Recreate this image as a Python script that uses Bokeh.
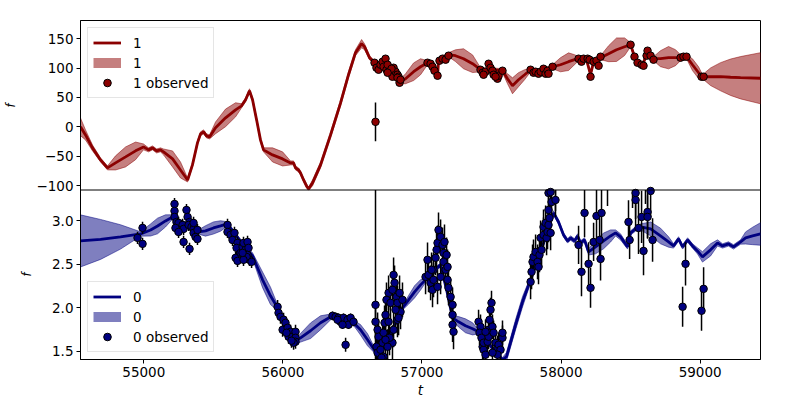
import numpy as np
from bokeh.plotting import figure
from bokeh.models import (Range1d, FixedTicker, Legend, LegendItem, ColumnDataSource, Span, Title)
from bokeh.embed import file_html
from bokeh.resources import INLINE

# ---------------- data ----------------
x_ticks = [55000, 56000, 57000, 58000, 59000]
x_tick_labels = ["55000", "56000", "57000", "58000", "59000"]
y1_ticks = [-100, -50, 0, 50, 100, 150]
y1_tick_labels = ["\u2212100", "\u221250", "0", "50", "100", "150"]
y0_ticks = [1.5, 2.0, 2.5, 3.0]
y0_tick_labels = ["1.5", "2.0", "2.5", "3.0"]

# series "1" : predicted mean and half-width of the band
gp1_t = [54545, 54581, 54631, 54689, 54739, 54797, 54869, 54941, 54998, 55034, 55063, 55092, 55120, 55142,
         55207, 55264, 55315, 55350, 55386, 55408, 55430, 55451, 55473, 55516, 55588, 55660, 55703, 55732,
         55760, 55782, 55811, 55839, 55861, 55926, 55998, 56055, 56077, 56091, 56113, 56127, 56149, 56170,
         56185, 56213, 56271, 56343, 56415, 56472, 56522, 56566, 56587, 56623, 56659, 56702, 56753, 56796,
         56839, 56882, 56940, 56990, 57040, 57083, 57112, 57119, 57148, 57191, 57241, 57299, 57364, 57421,
         57493, 57579, 57615, 57651, 57694, 57738, 57781, 57853, 57939, 57996, 58054, 58097, 58126, 58183,
         58212, 58234, 58284, 58342, 58399, 58457, 58500, 58528, 58557, 58586, 58615, 58636, 58665, 58715,
         58773, 58823, 58866, 58902, 58945, 58989, 59017, 59075, 59147, 59219, 59291, 59434]
gp1_mean = [0.0, -13.7, -35.8, -56.3, -69.9, -61.4, -51.2, -40.9, -34.1, -39.2, -35.8, -41.0, -39.2, -42.7,
            -54.6, -73.4, -90.4, -64.8, -27.3, -11.9, -8.5, -15.4, -17.1, -1.7, 15.3, 29.0, 35.8, 46.0,
            61.4, 46.0, 11.9, -22.2, -39.2, -47.8, -54.6, -61.4, -61.4, -69.9, -73.4, -78.5, -90.4, -100.6,
            -105.8, -95.5, -64.8, -13.7, 40.9, 88.7, 126.2, 141.6, 136.4, 117.7, 109.1, 104.0, 100.6, 95.5,
            76.7, 81.9, 93.8, 102.3, 109.1, 102.3, 85.3, 110.9, 117.7, 122.8, 121.1, 115.9, 107.4, 97.2,
            97.2, 95.5, 81.9, 69.9, 80.2, 88.7, 97.2, 93.8, 102.3, 105.7, 110.9, 114.3, 116.0, 114.3,
            88.7, 110.9, 117.7, 124.5, 131.3, 136.4, 139.8, 119.4, 109.1, 104.0, 124.5, 124.5, 116.0, 116.0,
            117.7, 117.7, 117.7, 119.4, 105.7, 92.1, 85.3, 85.3, 85.3, 84.4, 83.6, 82.7]
gp1_hw = [15, 8.5, 5, 3.4, 3.4, 12, 17, 15, 5, 3.4, 3.4, 3.4, 3.4, 5,
          13.6, 13.6, 3.4, 3.4, 3.4, 3.4, 3.4, 3.4, 3.4, 10, 15, 12, 3.4, 3.4,
          3.4, 3.4, 3.4, 3.4, 3.4, 12, 12, 3.4, 3.4, 3.4, 3.4, 3.4, 3.4, 3.4,
          3.4, 5, 5, 5, 5, 5, 5, 7, 5, 3.4, 3.4, 3.4, 3.4, 3.4,
          3.4, 8.5, 15, 13.6, 3.4, 3.4, 3.4, 3.4, 3.4, 3.4, 10, 17, 15, 3.4,
          3.4, 3.4, 8.5, 13.6, 12, 8.5, 3.4, 3.4, 3.4, 12, 15, 8.5, 3.4, 3.4,
          3.4, 3.4, 3.4, 13.6, 20, 15, 3.4, 3.4, 3.4, 3.4, 3.4, 3.4, 3.4, 13.6,
          19, 13.6, 3.4, 3.4, 10, 10, 3.4, 15, 24, 31, 36, 43.5]

# series "1" : observations
obs1_t = [56666, 56659, 56673, 56688, 56702, 56717, 56724, 56738, 56745, 56753, 56760, 56774, 56788, 56796,
          56810, 56824, 56832, 56839, 56824, 56781, 56753, 56846,
          57040, 57062, 57076, 57090, 57112, 57126, 57148, 57170, 57191,
          57421, 57436, 57457, 57479, 57493, 57507, 57515, 57543, 57551, 57579, 57443, 57529,
          57781, 57802, 57817, 57838, 57853, 57874, 57889, 57903, 57910, 57939,
          58126, 58147, 58162, 58191, 58205, 58212, 58234, 58255, 58270, 58284,
          58500, 58528, 58550, 58579, 58593, 58615, 58622, 58644, 58665,
          58859, 58880, 58902, 59010, 59025]
obs1_f = [8.5, 109.1, 100.6, 97.2, 105.7, 110.9, 102.3, 116.0, 97.2, 105.7, 93.8, 92.1, 85.3, 100.6,
          93.8, 88.7, 85.3, 75.0, 83.6, 98.9, 92.1, 80.2,
          109.1, 107.4, 102.3, 95.5, 87.0, 112.6, 116.0, 114.3, 121.1,
          97.2, 92.1, 93.8, 107.4, 100.6, 95.5, 88.7, 81.9, 87.0, 95.5, 88.7, 85.3,
          97.2, 92.1, 93.8, 90.4, 93.8, 98.9, 90.4, 95.5, 90.4, 102.3,
          116.0, 110.9, 116.0, 116.0, 114.3, 85.3, 110.9, 112.6, 104.0, 119.4,
          139.8, 119.4, 109.1, 105.7, 104.0, 121.1, 129.6, 121.1, 114.3,
          117.7, 119.4, 119.4, 85.3, 85.3]
obs1_err = [33, 2, 2, 2, 2, 2, 2, 2, 2, 2, 2, 2, 2, 2,
            2, 2, 2, 2, 2, 2, 2, 2,
            2, 2, 2, 2, 2, 2, 2, 2, 2,
            2, 2, 2, 2, 2, 2, 2, 2, 2, 2, 2, 2,
            2, 2, 2, 2, 2, 2, 2, 2, 2, 2,
            2, 2, 2, 2, 2, 2, 2, 2, 2, 2,
            2, 2, 2, 2, 2, 2, 2, 2, 2,
            2, 2, 2, 2, 2]

# series "0" : predicted mean and half-width of the band
gp0_t = [54545, 54689, 54833, 54977, 55049, 55099, 55156, 55207, 55228, 55300, 55394, 55444, 55501, 55552,
         55602, 55660, 55732, 55782, 55854, 55911, 55962, 56019, 56091, 56127, 56199, 56271, 56357, 56415,
         56501, 56558, 56609, 56666, 56702, 56774, 56860, 56904, 56947, 56990, 57033, 57076, 57134, 57177,
         57220, 57263, 57313, 57364, 57407, 57457, 57529, 57579, 57608, 57673, 57723, 57781, 57853, 57910,
         57946, 57982, 58018, 58047, 58068, 58097, 58119, 58140, 58169, 58198, 58248, 58306, 58356, 58392,
         58428, 58478, 58500, 58536, 58572, 58644, 58715, 58773, 58809, 58845, 58874, 58910, 58945, 58981,
         59017, 59075, 59125, 59161, 59204, 59240, 59291, 59327, 59377, 59434]
gp0_mean = [2.770, 2.787, 2.816, 2.850, 2.896, 2.942, 3.000, 3.046, 3.011, 2.965, 2.873, 2.885, 2.919, 2.942,
            2.965, 2.839, 2.690, 2.598, 2.322, 2.138, 2.000, 1.805, 1.609, 1.655, 1.736, 1.828, 1.908, 1.885,
            1.839, 1.747, 1.632, 1.494, 1.517, 1.690, 2.000, 2.092, 2.184, 2.264, 2.333, 2.414, 2.494, 2.207,
            1.885, 1.839, 1.793, 1.758, 1.724, 1.632, 1.494, 1.402, 1.437, 1.805, 2.069, 2.322, 2.643, 2.919,
            3.092, 2.988, 2.839, 2.770, 2.804, 2.770, 2.827, 2.747, 2.781, 2.643, 2.701, 2.770, 2.827, 2.862,
            2.816, 2.701, 2.862, 2.908, 2.931, 2.908, 2.827, 2.758, 2.712, 2.793, 2.701, 2.781, 2.712, 2.655,
            2.586, 2.667, 2.747, 2.712, 2.735, 2.701, 2.758, 2.804, 2.827, 2.850]
gp0_hw = [0.30, 0.23, 0.14, 0.025, 0.07, 0.09, 0.07, 0.025, 0.025, 0.025, 0.025, 0.06, 0.07, 0.06,
          0.025, 0.025, 0.025, 0.035, 0.09, 0.10, 0.035, 0.025, 0.025, 0.05, 0.09, 0.08, 0.025, 0.025,
          0.025, 0.06, 0.07, 0.025, 0.025, 0.025, 0.025, 0.05, 0.07, 0.06, 0.025, 0.025, 0.025, 0.025,
          0.025, 0.06, 0.08, 0.07, 0.025, 0.025, 0.025, 0.025, 0.05, 0.06, 0.06, 0.035, 0.025, 0.025,
          0.025, 0.025, 0.025, 0.025, 0.025, 0.025, 0.025, 0.025, 0.025, 0.035, 0.08, 0.09, 0.07, 0.035,
          0.035, 0.025, 0.025, 0.025, 0.035, 0.08, 0.09, 0.06, 0.025, 0.025, 0.025, 0.025, 0.025, 0.035,
          0.06, 0.07, 0.035, 0.025, 0.025, 0.025, 0.025, 0.07, 0.10, 0.13]

# series "0" : observations
obs0_t = [54955, 54991, 54991,
          55221, 55221, 55221, 55235, 55250, 55228, 55279, 55286, 55307, 55315, 55329, 55322, 55343, 55358,
          55358, 55372, 55386, 55386, 55286, 55329, 55250, 55358,
          55602, 55602, 55624, 55638, 55652, 55674, 55667, 55660, 55674, 55696, 55710, 55717, 55732, 55746,
          55753, 55746, 55760, 55739, 55717, 55710, 55775,
          55962, 55969, 55983, 56005, 55998, 56019, 56034, 56055, 56041, 56069, 56091, 56091, 56091, 56077,
          56062, 56026,
          56357, 56379, 56400, 56415, 56436, 56465, 56472, 56487, 56508, 56451, 56393, 56429,
          56666, 56666, 56681, 56688, 56673, 56681, 56702, 56717, 56724, 56731, 56738, 56745, 56760, 56774,
          56788, 56796, 56803, 56817, 56824, 56839, 56846, 56860, 56824, 56796, 56788, 56767, 56753, 56724,
          56709, 56810, 56832, 56760, 56738,
          57040, 57026, 57047, 57062, 57076, 57083, 57098, 57105, 57112, 57119, 57134, 57148, 57162, 57155,
          57155, 57170, 57184, 57184, 57191, 57206, 57220, 57220, 57220, 57227, 57134, 57112, 57083, 57069,
          57177,
          57407, 57421, 57414, 57428, 57436, 57443, 57457, 57443, 57472, 57479, 57486, 57493, 57500, 57479,
          57507, 57515, 57529, 57543, 57551, 57565, 57579, 57579, 57543, 57507, 57457,
          57781, 57788, 57795, 57802, 57817, 57831, 57838, 57845, 57860, 57853, 57874, 57874, 57889, 57896,
          57903, 57910, 57917, 57925, 57910, 57932, 57960, 57910, 57925,
          58126, 58147, 58169, 58198, 58212, 58234, 58255, 58277, 58291, 58284, 58485, 58493, 58536, 58536,
          58557, 58579, 58593, 58622, 58622, 58644, 58658, 58874, 58895, 59010, 59025, 57960, 58334, 58514,
          58607]
obs0_f = [2.805, 2.920, 2.736,
          3.195, 3.115, 3.046, 2.988, 2.977, 2.919, 2.954, 2.908, 3.126, 3.046, 2.988, 2.954, 2.931, 2.908,
          2.862, 2.816, 2.793, 2.896, 2.758, 2.678, 2.873, 2.977,
          2.954, 2.873, 2.839, 2.781, 2.862, 2.747, 2.690, 2.575, 2.540, 2.632, 2.701, 2.747, 2.667, 2.758,
          2.690, 2.609, 2.552, 2.586, 2.552, 2.632, 2.529,
          2.011, 1.942, 1.896, 1.862, 1.747, 1.827, 1.770, 1.724, 1.667, 1.667, 1.724, 1.655, 1.609, 1.598,
          1.621, 1.713,
          1.908, 1.896, 1.885, 1.839, 1.885, 1.862, 1.805, 1.885, 1.839, 1.574, 1.862, 1.805,
          2.034, 1.839, 1.747, 1.667, 1.552, 1.483, 1.517, 1.598, 1.713, 1.827, 1.919, 2.092, 2.172, 2.057,
          2.207, 2.379, 2.287, 2.126, 2.057, 2.172, 1.954, 2.092, 1.862, 1.747, 1.598, 1.655, 1.552, 1.437,
          1.425, 1.977, 1.885, 1.839, 1.632,
          2.552, 2.356, 2.379, 2.287, 2.207, 2.437, 2.575, 2.667, 2.747, 2.897, 2.816, 2.724, 2.758, 2.632,
          2.529, 2.437, 2.471, 2.322, 2.230, 2.126, 2.034, 1.919, 1.805, 1.724, 2.356, 2.241, 2.322, 2.437,
          2.609,
          1.839, 1.782, 1.713, 1.655, 1.552, 1.517, 1.460, 1.598, 1.609, 1.667, 1.862, 1.977, 2.057, 1.747,
          1.782, 1.713, 1.598, 1.540, 1.575, 1.517, 1.655, 1.713, 1.460, 1.483, 1.724,
          2.299, 2.414, 2.529, 2.586, 2.643, 2.529, 2.471, 2.609, 2.667, 2.805, 2.839, 2.931, 2.977, 2.805,
          2.873, 2.954, 3.034, 2.862, 3.126, 3.218, 3.241, 3.322, 3.333,
          2.724, 2.414, 3.092, 2.506, 2.230, 2.758, 3.057, 2.781, 3.092, 2.563, 2.988, 2.781, 3.241, 3.322,
          2.919, 3.046, 2.655, 3.103, 3.046, 3.345, 2.781, 2.012, 2.506, 1.966, 2.218, 3.414, 3.471, 3.448,
          3.494]
obs0_err = [0.07, 0.07, 0.07,
            0.07, 0.07, 0.07, 0.07, 0.07, 0.07, 0.07, 0.07, 0.07, 0.07, 0.07, 0.07, 0.07, 0.07,
            0.07, 0.07, 0.07, 0.07, 0.07, 0.07, 0.07, 0.07,
            0.07, 0.07, 0.07, 0.07, 0.07, 0.07, 0.07, 0.07, 0.07, 0.07, 0.07, 0.07, 0.07, 0.07,
            0.07, 0.07, 0.07, 0.07, 0.07, 0.07, 0.07,
            0.08, 0.08, 0.08, 0.08, 0.08, 0.08, 0.08, 0.08, 0.08, 0.08, 0.08, 0.08, 0.08, 0.08,
            0.08, 0.08,
            0.05, 0.05, 0.05, 0.05, 0.05, 0.05, 0.05, 0.05, 0.05, 0.08, 0.05, 0.05,
            2.0, 0.2, 0.2, 0.2, 0.2, 0.2, 0.2, 0.2, 0.2, 0.2, 0.2, 0.2, 0.2, 0.2,
            0.2, 0.2, 0.2, 0.2, 0.2, 0.2, 0.2, 0.2, 0.2, 0.2, 0.2, 0.2, 0.2, 0.2,
            0.2, 0.2, 0.2, 0.2, 0.2,
            0.2, 0.2, 0.2, 0.2, 0.2, 0.2, 0.2, 0.2, 0.2, 0.2, 0.2, 0.2, 0.2, 0.2,
            0.2, 0.2, 0.2, 0.2, 0.2, 0.2, 0.2, 0.2, 0.2, 0.2, 0.2, 0.2, 0.2, 0.2,
            0.2,
            0.14, 0.14, 0.14, 0.14, 0.14, 0.14, 0.14, 0.14, 0.14, 0.14, 0.14, 0.14, 0.14, 0.14,
            0.14, 0.14, 0.14, 0.14, 0.14, 0.14, 0.14, 0.14, 0.14, 0.14, 0.14,
            0.2, 0.2, 0.2, 0.2, 0.2, 0.2, 0.2, 0.2, 0.2, 0.2, 0.2, 0.2, 0.2, 0.2,
            0.2, 0.2, 0.2, 0.2, 0.2, 0.2, 0.2, 0.2, 0.2,
            0.22, 0.28, 0.28, 0.25, 0.23, 0.22, 0.30, 0.25, 0.30, 0.25, 0.25, 0.22, 0.30, 0.30,
            0.30, 0.30, 0.28, 0.30, 0.25, 0.30, 0.25, 0.23, 0.25, 0.23, 0.25, 0.30, 0.30, 0.30,
            0.30]

# ---------------- panel limits ----------------
T_LO, T_HI = 54545, 59434
Y1_LO, Y1_HI = -107.5, 181.0      # upper panel (series 1)
Y0_LO, Y0_HI = 1.405, 3.356       # lower panel (series 0)

FONT = "DejaVu Sans"
FS = "13.5px"
FS_F = "11.5px"
RED = "#8b0000"
NAVY = "#000080"

# one frame, two stacked panels: the lower panel uses the main y range,
# the upper one an extra y range placed over the upper half of the frame
span0 = Y0_HI - Y0_LO
span1 = Y1_HI - Y1_LO
p = figure(width=800, height=400, x_range=Range1d(T_LO, T_HI),
           y_range=Range1d(Y0_LO, Y0_HI + span0),
           output_backend="svg", toolbar_location=None,
           min_border_left=80, min_border_right=40, min_border_top=20, min_border_bottom=40)
p.extra_y_ranges = {"top": Range1d(Y1_LO - span1, Y1_HI)}


def to_main(v):
    """value of the upper panel -> position on the shared left axis"""
    return Y0_HI + (v - Y1_LO) / span1 * span0


p.outline_line_color = "black"
p.outline_line_width = 1
p.xgrid.visible = False
p.ygrid.visible = False
p.background_fill_color = "white"
p.border_fill_color = "white"
for ax in (p.xaxis[0], p.yaxis[0]):
    ax.axis_line_color = "black"
    ax.major_tick_line_color = "black"
    ax.major_tick_out = 4
    ax.major_tick_in = 0
    ax.minor_tick_line_color = None
    ax.major_label_text_font = FONT
    ax.major_label_text_font_size = FS
    ax.major_label_text_color = "black"
    ax.major_label_standoff = 3
    ax.axis_label_text_font = FONT
    ax.axis_label_text_font_size = FS
    ax.axis_label_text_font_style = "italic"
    ax.axis_label_text_color = "black"

ytick_pos = [float(v) for v in y0_ticks] + [float(to_main(v)) for v in y1_ticks]
ytick_lab = y0_tick_labels + y1_tick_labels
p.yaxis.ticker = FixedTicker(ticks=ytick_pos)
p.yaxis.major_label_overrides = {k: l for k, l in zip(ytick_pos, ytick_lab)}
p.xaxis.ticker = FixedTicker(ticks=x_ticks)
p.xaxis.major_label_overrides = {float(t): l for t, l in zip(x_ticks, x_tick_labels)}
p.xaxis.axis_label = "t"
p.xaxis.axis_label_standoff = 2

# panel divider
p.add_layout(Span(location=Y0_HI, dimension="width", line_color="black", line_width=1))

# y axis labels: one "f" for each panel, as side titles in the left border
# (inner one for the lower panel, outer one for the upper panel)
f_low = Title(text="f", align="left", offset=83, standoff=0, vertical_align="bottom",
              text_font=FONT, text_font_size=FS_F, text_font_style="italic", text_color="black")
f_up = Title(text="f", align="right", offset=83, standoff=0, vertical_align="bottom",
             text_font=FONT, text_font_size=FS_F, text_font_style="italic", text_color="black")
p.add_layout(f_low, "left")
p.add_layout(f_up, "left")


def draw_series(t, m, hw, ot, of, oe, color, name, loc, yname, lo_clip, hi_clip):
    kw = {} if yname is None else {"y_range_name": yname}
    t = np.asarray(t, float)
    m = np.asarray(m, float)
    hw = np.asarray(hw, float)
    up = np.clip(m + hw, lo_clip, hi_clip)
    dn = np.clip(m - hw, lo_clip, hi_clip)
    p.patch(np.concatenate([t, t[::-1]]), np.concatenate([up, dn[::-1]]),
            fill_color=color, fill_alpha=0.5, line_color=color, line_alpha=0.5, line_width=1, **kw)
    line_r = p.line(t, np.clip(m, lo_clip, hi_clip), line_color=color, line_width=2.8, **kw)
    ot = np.asarray(ot, float)
    of = np.asarray(of, float)
    oe = np.asarray(oe, float)
    seg = ColumnDataSource(dict(t=ot, lo=np.clip(of - oe, lo_clip, hi_clip),
                                hi=np.clip(of + oe, lo_clip, hi_clip)))
    p.segment(x0="t", y0="lo", x1="t", y1="hi", source=seg, line_color="black", line_width=1.5, **kw)
    keep = (of <= hi_clip) & (of >= lo_clip)
    dots = ColumnDataSource(dict(t=ot[keep], f=of[keep]))
    dot_r = p.scatter(x="t", y="f", source=dots, size=7.5, marker="circle", fill_color=color,
                      line_color="black", line_width=1, **kw)
    band_key = p.line([np.nan, np.nan], [np.nan, np.nan], line_color=color, line_alpha=0.5,
                      line_width=10, line_cap="butt", **kw)
    legend = Legend(items=[LegendItem(label=name, renderers=[line_r]),
                           LegendItem(label=name, renderers=[band_key]),
                           LegendItem(label=name + " observed", renderers=[dot_r])],
                    location=loc)
    legend.label_text_font = FONT
    legend.label_text_font_size = FS
    legend.label_text_color = "black"
    legend.glyph_width = 28
    legend.glyph_height = 19
    legend.label_height = 19
    legend.label_standoff = 12
    legend.spacing = 1
    legend.padding = 5
    legend.margin = 7
    legend.border_line_color = "#cccccc"
    legend.border_line_width = 1
    legend.background_fill_alpha = 0.8
    p.add_layout(legend)


draw_series(gp0_t, gp0_mean, gp0_hw, obs0_t, obs0_f, obs0_err, NAVY, "0", "bottom_left",
            None, Y0_LO - span0, Y0_HI)
draw_series(gp1_t, gp1_mean, gp1_hw, obs1_t, obs1_f, obs1_err, RED, "1", "top_left",
            "top", Y1_LO, Y1_HI + span1)

open("out.html", "w").write(file_html(p, INLINE))
